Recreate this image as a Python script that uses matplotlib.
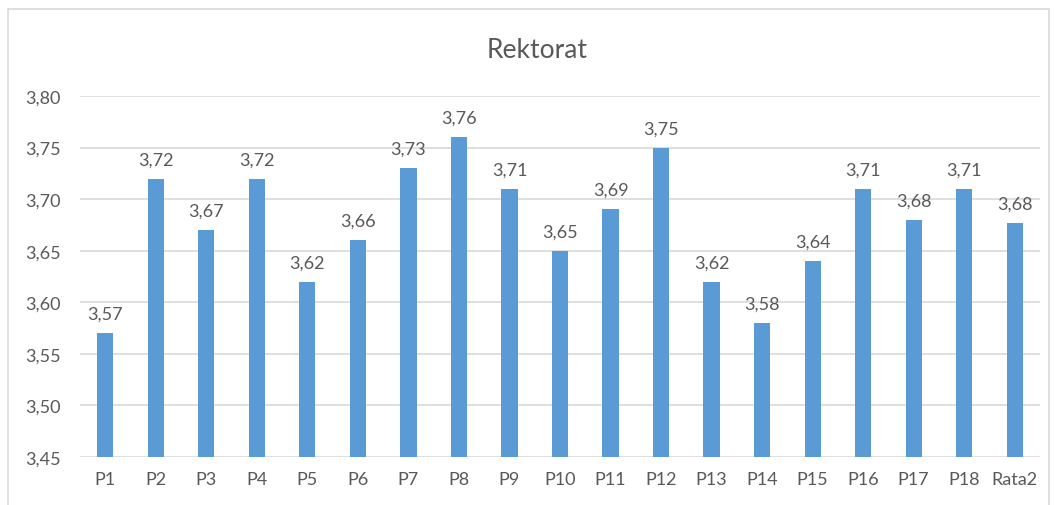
import matplotlib.pyplot as plt
from matplotlib.patches import Rectangle
from matplotlib.ticker import FuncFormatter

labels = ['P1', 'P2', 'P3', 'P4', 'P5', 'P6', 'P7', 'P8', 'P9', 'P10',
          'P11', 'P12', 'P13', 'P14', 'P15', 'P16', 'P17', 'P18', 'Rata2']
values = [3.57, 3.72, 3.67, 3.72, 3.62, 3.66, 3.73, 3.76, 3.71, 3.65,
          3.69, 3.75, 3.62, 3.58, 3.64, 3.71, 3.68, 3.71, 3.677]
yticks = [3.45, 3.50, 3.55, 3.60, 3.65, 3.70, 3.75, 3.80]

plt.rcParams['font.family'] = ['Lato', 'DejaVu Sans']
grey = '#595959'

fig = plt.figure(figsize=(10.57, 5.06), dpi=100)
ax = fig.add_axes([80/1057, 1-458/506, 960/1057, (458-97)/506])

# chart border like the excel frame
fig.patches.append(Rectangle((8/1057, -0.1), (1049-8)/1057, 1.1-10/506,
                             transform=fig.transFigure, fill=False,
                             edgecolor='#d9d9d9', linewidth=1.2))

x = range(len(labels))
ax.bar(x, values, width=0.32, color='#5b9bd5', zorder=3)

for i, v in enumerate(values):
    ax.text(i, v + 0.011, f'{v:.2f}'.replace('.', ','), ha='center', va='bottom',
            fontsize=13, color=grey)

ax.set(xlim=(-0.5, len(labels) - 0.5), ylim=(3.45, 3.80), yticks=yticks)
ax.set_xticks(list(x))
ax.set_xticklabels(labels)
ax.yaxis.set_major_formatter(FuncFormatter(lambda v, p: f'{v:.2f}'.replace('.', ',')))
ax.tick_params(length=0, labelsize=13, labelcolor=grey)
ax.tick_params(axis='x', pad=10)
ax.tick_params(axis='y', pad=14)
ax.grid(axis='y', color='#d9d9d9', linewidth=1.2, zorder=0)
for s in ax.spines.values():
    s.set_visible(False)

fig.text(537/1057, 1-50/506, 'Rektorat', ha='center', va='center',
         fontsize=19, color=grey)

fig.savefig('out.png', dpi=100)
